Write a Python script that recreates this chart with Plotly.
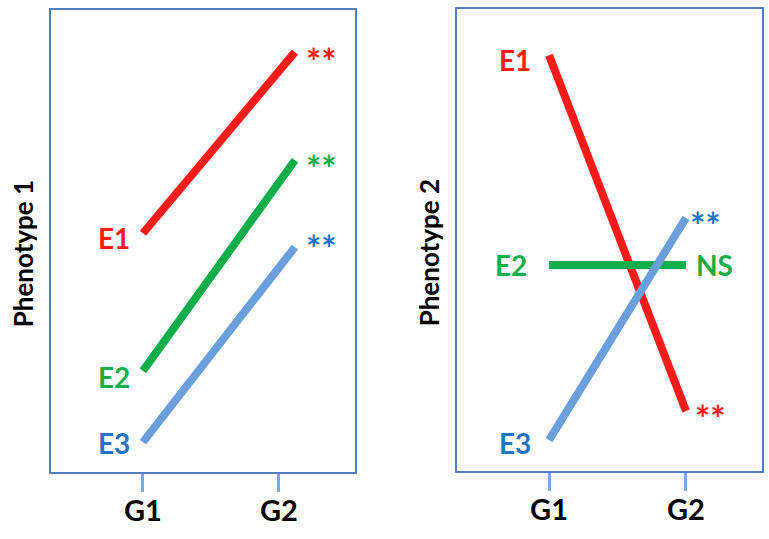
import plotly.graph_objects as go

# ---- data ----
groups = ["G1", "G2"]
envs = ["E1", "E2", "E3"]
pheno1 = {"E1": [51.7, 90.9], "E2": [21.9, 67.5], "E3": [6.5, 48.7]}
pheno2 = {"E1": [90.0, 13.0], "E2": [44.6, 44.6], "E3": [6.7, 54.8]}
sig1 = {"E1": "**", "E2": "**", "E3": "**"}
sig2 = {"E1": "**", "E2": "NS", "E3": "**"}
panel_titles = ["Phenotype 1", "Phenotype 2"]

# ---- styles ----
line_col = {"E1": "#ff1a1a", "E2": "#12ad4b", "E3": "#6a9fdc"}
text_col = {"E1": "#ff1a1a", "E2": "#12ad4b", "E3": "#1f74c4"}
FONT = "Lato"

fig = go.Figure()

left_x = [1, 2]
right_x = [1, 2]

for e in envs:
    fig.add_trace(go.Scatter(x=left_x, y=pheno1[e], mode="lines",
                             line=dict(color=line_col[e], width=8),
                             xaxis="x", yaxis="y", showlegend=False, hoverinfo="skip"))
for e in envs:
    fig.add_trace(go.Scatter(x=right_x, y=pheno2[e], mode="lines",
                             line=dict(color=line_col[e], width=8),
                             xaxis="x2", yaxis="y2", showlegend=False, hoverinfo="skip"))


def sig_font(txt, col):
    if txt == "**":
        return dict(family=FONT, size=36, color=col, weight="bold")
    return dict(family=FONT, size=28, color=col, weight="bold")


def sig_dy(txt):
    return -8 if txt == "**" else 0


ann = []
lab_shift1 = {"E1": -5, "E2": -6, "E3": -1}
sig_shift1 = {"E1": -1, "E2": 0, "E3": 7}
for e in envs:
    ann.append(dict(x=left_x[0], y=pheno1[e][0], xref="x", yref="y", text=e, showarrow=False,
                    xanchor="right", xshift=-11, yshift=lab_shift1[e],
                    font=dict(family=FONT, size=28, color=text_col[e], weight="bold")))
    ann.append(dict(x=left_x[1], y=pheno1[e][1], xref="x", yref="y", text=sig1[e], showarrow=False,
                    xanchor="left", xshift=9, yshift=sig_shift1[e] + sig_dy(sig1[e]),
                    font=sig_font(sig1[e], text_col[e])))

lab_shift2 = {"E1": -5, "E2": 0, "E3": -3}
lab_x2 = {"E1": -16, "E2": -20, "E3": -16}
sig_shift2 = {"E1": 1, "E2": 0, "E3": 1}
sig_x2 = {"E1": 7, "E2": 8, "E3": 2}
for e in envs:
    ann.append(dict(x=right_x[0], y=pheno2[e][0], xref="x2", yref="y2", text=e, showarrow=False,
                    xanchor="right", xshift=lab_x2[e], yshift=lab_shift2[e],
                    font=dict(family=FONT, size=28, color=text_col[e], weight="bold")))
    ann.append(dict(x=right_x[1], y=pheno2[e][1], xref="x2", yref="y2", text=sig2[e], showarrow=False,
                    xanchor="left", xshift=sig_x2[e], yshift=sig_shift2[e] + sig_dy(sig2[e]),
                    font=sig_font(sig2[e], text_col[e])))

# axis titles
ann.append(dict(x=0.0663, y=0.53, xref="paper", yref="paper", text=panel_titles[0],
                showarrow=False, textangle=-90, xanchor="right", xshift=-10,
                font=dict(family=FONT, size=26, color="black", weight="bold")))
ann.append(dict(x=0.5943, y=0.53, xref="paper", yref="paper", text=panel_titles[1],
                showarrow=False, textangle=-90, xanchor="right", xshift=-10,
                font=dict(family=FONT, size=26, color="black", weight="bold")))

box = dict(showline=True, mirror=True, linecolor="#4f7fbd", linewidth=2,
           showgrid=False, zeroline=False)
xcommon = dict(ticks="outside", ticklen=18, tickwidth=3, tickcolor="#7aa8dd",
               ticklabelstandoff=-6,
               tickfont=dict(family=FONT, size=29, color="black", weight="bold"), **box)

fig.update_layout(
    width=769, height=539,
    margin=dict(l=0, r=0, t=0, b=0),
    paper_bgcolor="white", plot_bgcolor="white",
    xaxis=dict(domain=[0.0663, 0.4616], range=[0.395, 2.395],
               tickvals=[1, 1.895], ticktext=groups, anchor="y", **xcommon),
    yaxis=dict(domain=[0.124, 0.9814], range=[0, 100], showticklabels=False,
               ticks="", anchor="x", **box),
    xaxis2=dict(domain=[0.5943, 0.9909], range=[0.328, 2.555],
                tickvals=[1, 2], ticktext=groups, anchor="y2", **xcommon),
    yaxis2=dict(domain=[0.126, 0.9833], range=[0, 100], showticklabels=False,
                ticks="", anchor="x2", **box),
    annotations=ann,
)

fig.write_html("out.html", config={"displayModeBar": False},
               post_script="document.body.style.margin='0';document.body.style.overflow='hidden';")
